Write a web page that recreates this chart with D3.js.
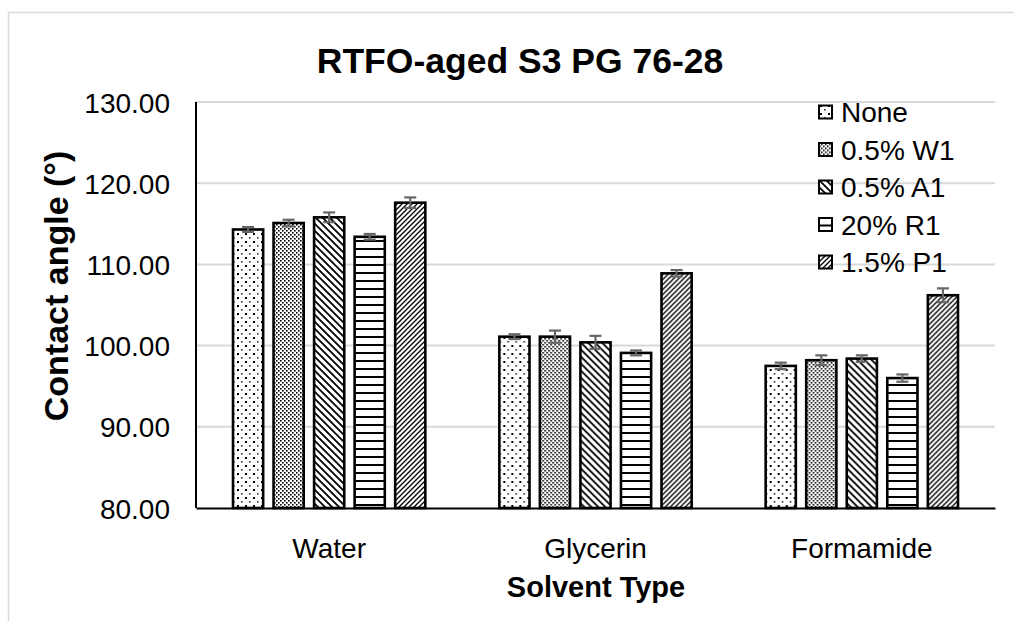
<!DOCTYPE html>
<html><head><meta charset="utf-8">
<script src="https://cdn.jsdelivr.net/npm/d3@7"></script>
<style>
html,body{margin:0;padding:0;background:#fff;}
text{font-family:"Liberation Sans",Arial,sans-serif;fill:#000;}
</style></head>
<body>
<svg id="chart" width="1014" height="621"></svg>
<script>
const categories = ["Water", "Glycerin", "Formamide"];
const seriesNames = ["None", "0.5% W1", "0.5% A1", "20% R1", "1.5% P1"];
const valNone = [114.3, 101.1, 97.5];
const valW1   = [115.1, 101.1, 98.2];
const valA1   = [115.8, 100.4, 98.4];
const valR1   = [113.4, 99.1, 96.0];
const valP1   = [117.6, 108.9, 106.2];
const errNone = [0.3, 0.3, 0.4];
const errW1   = [0.4, 0.75, 0.6];
const errA1   = [0.6, 0.8, 0.4];
const errR1   = [0.35, 0.3, 0.45];
const errP1   = [0.65, 0.4, 0.85];
const yTicks  = [80, 90, 100, 110, 120, 130];
const chartTitle = "RTFO-aged S3 PG 76-28";
const yTitle = "Contact angle (°)";
const xTitle = "Solvent Type";

const values = [valNone, valW1, valA1, valR1, valP1];
const errors = [errNone, errW1, errA1, errR1, errP1];

const svg = d3.select("#chart");
const defs = svg.append("defs");

function pat(id, w, h, draw) {
  const p = defs.append("pattern").attr("id", id).attr("patternUnits", "userSpaceOnUse")
    .attr("width", w).attr("height", h);
  p.append("rect").attr("width", w).attr("height", h).attr("fill", "#fff");
  draw(p);
}
pat("p0", 8, 8, p => {
  p.append("rect").attr("x", 1).attr("y", 1).attr("width", 2).attr("height", 2).attr("fill", "#000");
  p.append("rect").attr("x", 5).attr("y", 5).attr("width", 1.6).attr("height", 1.6).attr("fill", "#333");
});
pat("p1", 4, 4, p => {
  p.append("rect").attr("x", 0).attr("y", 0).attr("width", 1.6).attr("height", 1.6).attr("fill", "#000");
  p.append("rect").attr("x", 2).attr("y", 2).attr("width", 1.6).attr("height", 1.6).attr("fill", "#000");
});
pat("p2", 7, 7, p => {
  p.append("path").attr("d", "M-1,-1L8,8M-1,6L1,8M6,-1L8,1").attr("stroke", "#000").attr("stroke-width", 1.8);
});
pat("p3", 8, 8, p => {
  p.append("rect").attr("x", 0).attr("y", 0).attr("width", 8).attr("height", 2).attr("fill", "#000");
});
pat("p4", 5, 5, p => {
  p.append("path").attr("d", "M-1,6L6,-1M-1,1L1,-1M4,6L6,4").attr("stroke", "#000").attr("stroke-width", 1.3);
});
const patIds = ["p0", "p1", "p2", "p3", "p4"];

svg.append("rect").attr("x", 8.5).attr("y", 12.5).attr("width", 1020).attr("height", 620)
  .attr("fill", "none").attr("stroke", "#d9d9d9").attr("stroke-width", 1.5);

const pLeft = 196, pRight = 995, pTop = 102, pBottom = 508;
const y = d3.scaleLinear().domain([80, 130]).range([pBottom, pTop]);
const x0 = d3.scaleBand().domain(categories).range([pLeft, pRight]).padding(0);
const x1 = d3.scaleBand().domain(seriesNames).range([37, x0.bandwidth() - 37]).paddingInner(0.256).paddingOuter(0);

svg.append("g").selectAll("line").data(yTicks.filter(t => t > 80)).join("line")
  .attr("x1", pLeft).attr("x2", pRight).attr("y1", d => y(d)).attr("y2", d => y(d))
  .attr("stroke", "#d9d9d9").attr("stroke-width", 2);

const yAxis = d3.axisLeft(y).tickValues(yTicks).tickSize(0).tickPadding(26).tickFormat(d3.format(".2f"));
const gy = svg.append("g").attr("transform", `translate(${pLeft},0)`).call(yAxis);
gy.select(".domain").remove();
gy.selectAll("text").attr("font-size", 28).attr("fill", "#000").attr("dy", "0.36em")
  .style("font-family", '"Liberation Sans", Arial, sans-serif');

const groups = svg.append("g").selectAll("g").data(categories).join("g")
  .attr("transform", d => `translate(${x0(d)},0)`);
groups.each(function(cat, ci) {
  const g = d3.select(this);
  seriesNames.forEach((s, si) => {
    const v = values[si][ci];
    g.append("rect").attr("x", x1(s)).attr("width", x1.bandwidth())
      .attr("y", y(v)).attr("height", y(80) - y(v))
      .attr("fill", `url(#${patIds[si]})`).attr("stroke", "#000").attr("stroke-width", 2.6);
  });
  seriesNames.forEach((s, si) => {
    const v = values[si][ci], e = errors[si][ci];
    const cx = x1(s) + x1.bandwidth() / 2;
    const eb = g.append("g").attr("stroke", "#666").attr("stroke-width", 2.2);
    eb.append("line").attr("x1", cx).attr("x2", cx).attr("y1", y(v + e)).attr("y2", y(v - e));
    eb.append("line").attr("x1", cx - 6).attr("x2", cx + 6).attr("y1", y(v + e)).attr("y2", y(v + e));
    eb.append("line").attr("x1", cx - 6).attr("x2", cx + 6).attr("y1", y(v - e)).attr("y2", y(v - e));
  });
});

svg.append("line").attr("x1", pLeft).attr("x2", pLeft).attr("y1", pTop).attr("y2", pBottom)
  .attr("stroke", "#000").attr("stroke-width", 2);
const xAxis = d3.axisBottom(x0).tickSize(0).tickPadding(30);
const gx = svg.append("g").attr("transform", `translate(0,${pBottom})`).call(xAxis);
gx.select(".domain").attr("stroke", "#000").attr("stroke-width", 2);
gx.selectAll("text").attr("font-size", 28).attr("fill", "#000")
  .style("font-family", '"Liberation Sans", Arial, sans-serif');

svg.append("text").attr("x", 520).attr("y", 73).attr("text-anchor", "middle")
  .attr("font-size", 35.5).attr("font-weight", "bold").text(chartTitle);
svg.append("text").attr("transform", "translate(68,286) rotate(-90)").attr("text-anchor", "middle")
  .attr("font-size", 34).attr("font-weight", "bold").text(yTitle);
svg.append("text").attr("x", 596).attr("y", 597).attr("text-anchor", "middle")
  .attr("font-size", 29).attr("font-weight", "bold").text(xTitle);

const lg = svg.append("g").selectAll("g").data(seriesNames).join("g")
  .attr("transform", (d, i) => `translate(819,${112 + i * 37.5})`);
lg.append("rect").attr("x", 0).attr("y", -6.5).attr("width", 13).attr("height", 13)
  .attr("fill", (d, i) => `url(#${patIds[i]})`).attr("stroke", "#000").attr("stroke-width", 2);
lg.append("text").attr("x", 22).attr("y", 0).attr("dy", "0.36em").attr("font-size", 28).text(d => d);
</script>
</body></html>
